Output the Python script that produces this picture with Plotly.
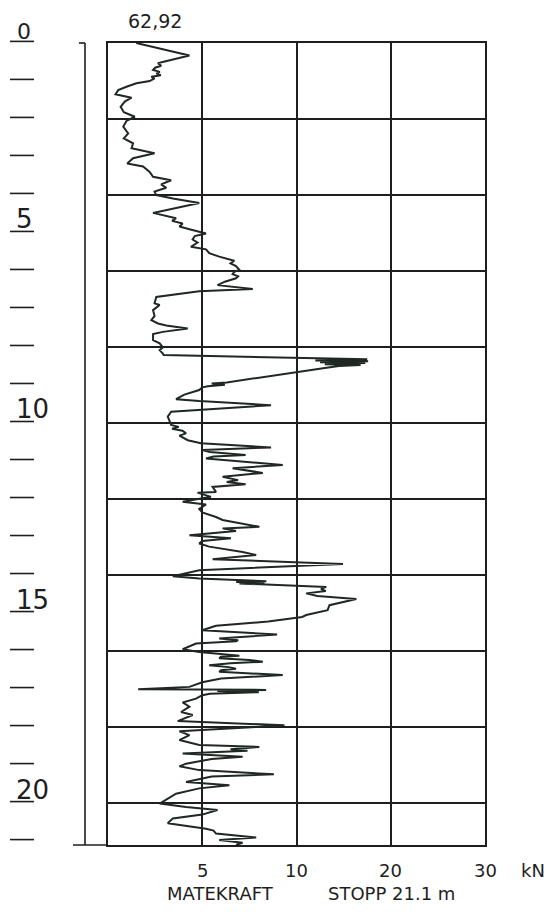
import numpy as np
import plotly.graph_objects as go

# Feed force (kN) recorded against penetration depth (m)
depth = [
    0.00, 0.33, 0.50, 0.53, 0.60, 0.65, 0.71, 0.76, 0.80, 0.85, 0.89, 0.93, 1.00,
    1.06, 1.15, 1.24, 1.35, 1.44, 1.54, 1.68, 1.82, 1.94, 2.05, 2.20, 2.38, 2.51,
    2.64, 2.77, 2.90, 3.03, 3.17, 3.25, 3.39, 3.52, 3.61, 3.72, 3.81, 3.91, 4.00,
    4.09, 4.21, 4.47, 4.61, 4.68, 4.75, 4.83, 4.90, 5.01, 5.08, 5.17, 5.25, 5.36,
    5.43, 5.53, 5.62, 5.73, 5.80, 5.87, 5.97, 6.02, 6.08, 6.14, 6.19, 6.28, 6.37,
    6.47, 6.53, 6.68, 6.85, 6.89, 7.03, 7.18, 7.29, 7.38, 7.43, 7.51, 7.60, 7.66,
    7.82, 7.90, 8.01, 8.08, 8.17, 8.21, 8.32, 8.35, 8.37, 8.40, 8.42, 8.45, 8.47,
    8.50, 8.55, 8.65, 8.85, 8.93, 8.96, 8.99, 9.03, 9.06, 9.13, 9.25, 9.37, 9.42,
    9.53, 9.66, 9.70, 9.83, 9.97, 10.05, 10.10, 10.15, 10.20, 10.27, 10.33, 10.45,
    10.53, 10.64, 10.71, 10.76, 10.84, 10.88, 10.93, 11.10, 11.19, 11.31, 11.41,
    11.50, 11.55, 11.61, 11.68, 11.81, 11.83, 11.94, 12.07, 12.14, 12.26, 12.35,
    12.47, 12.55, 12.73, 12.77, 12.84, 12.95, 13.03, 13.10, 13.17, 13.25, 13.39,
    13.47, 13.58, 13.71, 13.87, 14.03, 14.09, 14.16, 14.18, 14.20, 14.22, 14.31,
    14.36, 14.42, 14.48, 14.55, 14.63, 14.79, 14.92, 15.05, 15.10, 15.18, 15.22,
    15.33, 15.45, 15.56, 15.67, 15.71, 15.74, 15.80, 15.95, 16.02, 16.07, 16.09,
    16.12, 16.15, 16.19, 16.23, 16.28, 16.32, 16.37, 16.42, 16.46, 16.50, 16.54,
    16.63, 16.72, 16.82, 16.94, 17.00, 17.02, 17.05, 17.08, 17.12, 17.16, 17.25,
    17.35, 17.46, 17.60, 17.68, 17.84, 17.95, 18.11, 18.21, 18.34, 18.47, 18.52,
    18.58, 18.62, 18.69, 18.78, 18.84, 18.96, 19.03, 19.13, 19.24, 19.30, 19.44,
    19.53, 19.61, 19.75, 20.01, 20.10, 20.18, 20.30, 20.40, 20.53, 20.67, 20.72,
    20.80, 20.85, 20.90, 20.97, 21.04, 21.10,
]
force_kn = [
    1.50, 4.32, 2.90, 2.65, 2.82, 2.50, 2.39, 2.75, 2.56, 2.80, 2.30, 2.47, 2.21,
    1.51, 0.98, 0.54, 0.40, 1.25, 0.89, 0.67, 0.84, 1.42, 0.98, 0.81, 1.07, 0.84,
    1.33, 1.25, 2.47, 1.33, 1.02, 1.86, 2.21, 2.39, 3.35, 2.82, 3.09, 2.47, 2.56,
    3.44, 4.84, 2.39, 3.61, 3.40, 3.96, 3.79, 4.32, 5.20, 4.60, 4.49, 4.75, 4.40,
    5.20, 5.37, 5.90, 6.70, 6.50, 6.79, 6.97, 6.70, 6.61, 6.90, 6.79, 6.20, 5.81,
    7.68, 4.84, 2.56, 2.47, 2.74, 2.39, 2.47, 2.30, 2.65, 3.09, 4.23, 2.91, 2.39,
    2.39, 2.74, 2.91, 2.74, 2.91, 2.95, 17.50, 12.00, 17.60, 12.50, 17.30, 13.00, 16.80,
    14.50, 13.00, 10.30, 7.50, 6.30, 5.50, 6.20, 5.30, 5.00, 4.84, 4.05, 3.61, 4.84,
    8.65, 4.84, 3.35, 3.17, 3.26, 3.35, 3.75, 3.40, 3.95, 4.14, 3.79, 4.23,
    4.93, 8.65, 5.00, 5.40, 7.30, 5.60, 5.20, 9.27, 6.61, 8.21, 6.08,
    6.90, 6.30, 7.30, 5.55, 5.73, 4.75, 5.46, 3.96, 5.20, 4.84, 5.00,
    5.73, 6.08, 8.03, 6.08, 6.79, 4.32, 6.52, 5.00, 4.84, 5.37, 7.14,
    7.86, 5.55, 14.93, 4.84, 3.44, 4.84, 8.40, 6.80, 8.30, 6.97, 13.16,
    12.60, 13.10, 11.03, 12.20, 16.35, 13.50, 13.30, 11.03, 10.60, 9.14, 8.50,
    5.73, 5.00, 8.97, 5.90, 6.90, 6.79, 4.67, 3.96, 4.84, 6.00, 6.50,
    6.97, 6.00, 5.90, 7.50, 8.21, 6.50, 5.37, 6.40, 6.79, 6.00, 5.90,
    9.27, 6.00, 5.00, 4.32, 1.60, 8.39, 5.80, 8.00, 5.40, 5.00, 4.67,
    3.96, 4.32, 3.88, 4.49, 3.70, 9.36, 3.79, 4.32, 3.79, 4.84, 8.03,
    6.50, 7.40, 3.96, 7.14, 5.50, 4.14, 3.79, 4.84, 8.80, 5.50, 4.14,
    6.44, 4.84, 3.61, 2.74, 4.14, 5.81, 5.00, 3.44, 3.17, 5.20, 5.60,
    5.73, 6.80, 7.86, 5.90, 7.14, 6.79,
]

# Piecewise force scale: each grid column spans one of these intervals
scale_kn = [0, 5, 10, 20, 30]
scale_pos = [0, 1, 2, 3, 4]
force_tick_labels = ["5", "10", "20", "30"]
depth_label_values = [0, 5, 10, 15, 20]
max_depth = 21.1
top_value_text = "62,92"

INK = "#1e1e1e"
CURVE = "#1f2823"
FONT = "DejaVu Sans"

x_plot = np.interp(force_kn, scale_kn, scale_pos)

fig = go.Figure(
    go.Scatter(
        x=x_plot, y=depth, mode="lines",
        line=dict(color=CURVE, width=2),
        hoverinfo="skip", showlegend=False,
    )
)

L, R, T, B = 108, 64, 43, 71
W, H = 549, 916
plot_w = W - L - R

def px_to_paper_x(px):
    return (px - L) / plot_w

def depth_to_paper_y(d):
    return 1 - d / max_depth

fig.update_layout(
    width=W, height=H,
    margin=dict(l=L, r=R, t=T, b=B),
    paper_bgcolor="white", plot_bgcolor="white",
    xaxis=dict(
        range=[0, 4], tickvals=scale_pos[1:4], showticklabels=False, ticks="",
        showgrid=True, gridcolor=INK, gridwidth=1.5, zeroline=False,
        showline=True, linecolor=INK, linewidth=1.6, mirror=True,
    ),
    yaxis=dict(
        range=[max_depth, 0], tickvals=list(range(2, 21, 2)), showticklabels=False,
        ticks="", showgrid=True, gridcolor=INK, gridwidth=1.5, zeroline=False,
        showline=True, linecolor=INK, linewidth=1.6, mirror=True,
    ),
)

shapes = []
line_style = dict(color=INK, width=1.6)
# Depth rule left of the grid, with its small top hook and extended base line
shapes.append(dict(type="line", xref="paper", yref="paper",
                   x0=px_to_paper_x(85), x1=px_to_paper_x(85), y0=0, y1=1,
                   line=line_style))
shapes.append(dict(type="line", xref="paper", yref="paper",
                   x0=px_to_paper_x(79), x1=px_to_paper_x(85), y0=1, y1=1,
                   line=line_style))
shapes.append(dict(type="line", xref="paper", yref="paper",
                   x0=px_to_paper_x(73), x1=0, y0=0, y1=0,
                   line=line_style))
# Metre ticks on the depth scale
for d in range(0, 22):
    yp = depth_to_paper_y(d) + 0.002
    shapes.append(dict(type="line", xref="paper", yref="paper",
                       x0=px_to_paper_x(10), x1=px_to_paper_x(34),
                       y0=yp, y1=yp, line=line_style))
fig.update_layout(shapes=shapes)

annotations = []
for d in depth_label_values:
    annotations.append(dict(
        text=str(d), xref="paper", yref="paper",
        x=px_to_paper_x(14 if d else 15), y=depth_to_paper_y(d) + 0.002,
        xanchor="left", yanchor="bottom", yshift=-5, showarrow=False,
        font=dict(family=FONT, size=26 if d else 22, color=INK),
    ))
for pos, lab in zip(scale_pos[1:], force_tick_labels):
    annotations.append(dict(
        text=lab, xref="x", yref="paper", x=pos, y=0,
        xanchor="center", yanchor="middle", yshift=-25, showarrow=False,
        font=dict(family=FONT, size=18, color=INK),
    ))
annotations.append(dict(
    text="kN", xref="paper", yref="paper", x=px_to_paper_x(533), y=0,
    xanchor="center", yanchor="middle", yshift=-25, showarrow=False,
    font=dict(family=FONT, size=18, color=INK),
))
annotations.append(dict(
    text="MATEKRAFT", xref="paper", yref="paper", x=px_to_paper_x(220), y=0,
    xanchor="center", yanchor="middle", yshift=-48, showarrow=False,
    font=dict(family=FONT, size=18, color=INK),
))
annotations.append(dict(
    text="STOPP 21.1 m", xref="paper", yref="paper", x=px_to_paper_x(391), y=0,
    xanchor="center", yanchor="middle", yshift=-48, showarrow=False,
    font=dict(family=FONT, size=18, color=INK),
))
annotations.append(dict(
    text=top_value_text, xref="paper", yref="paper", x=px_to_paper_x(155), y=1,
    xanchor="center", yanchor="middle", yshift=22, showarrow=False,
    font=dict(family=FONT, size=19, color=INK),
))
fig.update_layout(annotations=annotations)

fig.write_html("out.html")
